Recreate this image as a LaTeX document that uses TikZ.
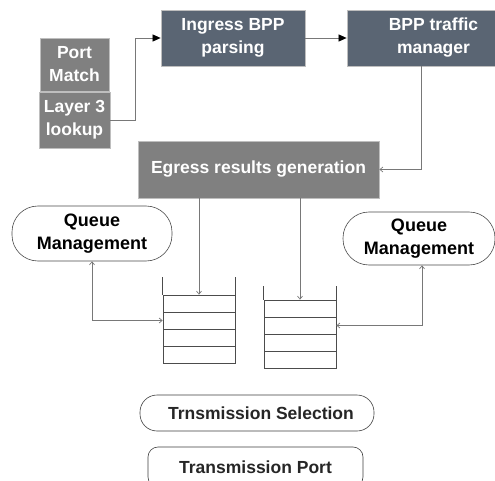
\documentclass[tikz,border=0pt]{standalone}
\usepackage{fontspec}
\setmainfont{Liberation Sans}
\usetikzlibrary{arrows.meta}
\definecolor{slate}{RGB}{90,101,115}
\definecolor{midgray}{RGB}{128,128,128}
\definecolor{edgegray}{RGB}{190,190,190}
\definecolor{linegray}{RGB}{120,120,120}
\tikzset{
  darkbox/.style={rectangle, fill=slate, draw=edgegray, line width=0.8pt, text=white, font=\fontsize{17.5}{23}\selectfont\bfseries, align=center, inner sep=0pt},
  graybox/.style={rectangle, fill=midgray, draw=edgegray, line width=0.8pt, text=white, font=\fontsize{17.5}{23}\selectfont\bfseries, align=center, inner sep=0pt},
  qmbox/.style={rectangle, rounded corners=26pt, draw=black!70, line width=0.6pt, text=black, font=\fontsize{18}{23}\selectfont\bfseries, align=center, inner sep=0pt},
  tbox/.style={rectangle, draw=black!75, line width=0.6pt, text=black!85, font=\fontsize{17.5}{21}\selectfont\bfseries, align=center, inner sep=0pt},
  cell/.style={rectangle, draw=black!70, line width=0.7pt, minimum width=72pt, minimum height=17pt, inner sep=0pt},
  conn/.style={draw=linegray, line width=0.7pt},
  bigtip/.style={-{Triangle[length=8pt,width=7pt,color=black]}},
  smalltip/.style={-{Straight Barb[length=3pt,width=5pt]}},
  dbltip/.style={{Straight Barb[length=3pt,width=5pt]}-{Straight Barb[length=3pt,width=5pt]}}
}
\begin{document}
\begin{tikzpicture}[x=1pt,y=-1pt]
\clip (0,0) rectangle (495,481);
\fill[white] (0,0) rectangle (495,481);
% top boxes
\node[graybox, minimum width=69pt, minimum height=53pt] (pm) at (74.5,64.5) {Port\\Match};
\node[graybox, minimum width=71pt, minimum height=56pt] (l3) at (74.5,120) {Layer 3\\lookup};
\node[darkbox, minimum width=144pt, minimum height=56pt] (ing) at (233,38) {Ingress BPP\\parsing};
\node[darkbox, minimum width=173pt, minimum height=56pt] (tm) at (433.5,38) {BPP traffic\\manager};
\node[graybox, minimum width=241pt, minimum height=57pt] (eg) at (258.5,169.5) {Egress results generation};
% queue management
\node[qmbox, minimum width=160pt, minimum height=55pt] (qml) at (92,233.5) {Queue\\Management};
\node[qmbox, minimum width=152pt, minimum height=53pt] (qmr) at (419,238.5) {Queue\\Management};
% stacks
\node[cell] (a1) at (199,303.5) {};
\node[cell] (a2) at (199,320.5) {};
\node[cell] (a3) at (199,337.5) {};
\node[cell] (a4) at (199,354.5) {};
\node[cell] (b1) at (300,308.5) {};
\node[cell] (b2) at (300,325.5) {};
\node[cell] (b3) at (300,342.5) {};
\node[cell] (b4) at (300,359.5) {};
\draw[black!70, line width=0.7pt] (a1.north west) -- ++(0,-18);
\draw[black!70, line width=0.7pt] (a1.north east) -- ++(0,-18);
\draw[black!70, line width=0.7pt] (b1.north west) -- ++(0,-14);
\draw[black!70, line width=0.7pt] (b1.north east) -- ++(0,-14);
% bottom
\node[tbox, rounded corners=17pt, minimum width=234pt, minimum height=36pt] (ts) at (257,413) {\hspace*{8pt}Trnsmission Selection};
\node[tbox, rounded corners=10pt, minimum width=215pt, minimum height=40pt] (tp) at (255.5,467) {Transmission Port};
% connectors
\draw[conn, bigtip] (l3.east) -- (135,120) |- (ing.west);
\draw[conn, bigtip] (ing.east) -- (tm.west);
\draw[conn, smalltip] ([xshift=-12pt]tm.south) |- (eg.east);
\draw[conn, smalltip] (eg.south -| a1.north) -- (a1.north);
\draw[conn, smalltip] (eg.south -| b1.north) -- (b1.north);
\draw[conn, dbltip] (qml.south) |- (a2.west);
\draw[conn, dbltip] ([xshift=3pt]qmr.south) |- (b2.east);
\end{tikzpicture}
\end{document}
